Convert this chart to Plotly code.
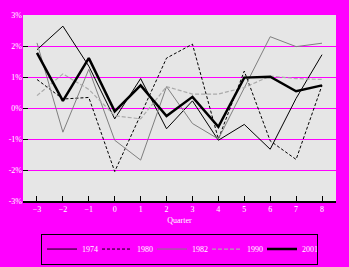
import plotly.graph_objects as go

quarters = [-3, -2, -1, 0, 1, 2, 3, 4, 5, 6, 7, 8]
s1974 = [1.88, 2.64, 1.35, -0.35, 0.95, -0.67, 0.23, -1.04, -0.53, -1.33, 0.31, 1.72]
s1980 = [0.92, 0.29, 0.34, -2.05, -0.22, 1.61, 2.06, -1.0, 1.19, -1.06, -1.66, 0.73]
s1982 = [2.1, -0.78, 1.25, -1.04, -1.68, 0.69, -0.5, -1.0, 0.65, 2.3, 1.98, 2.09]
s1990 = [0.4, 1.1, 0.6, -0.25, -0.35, 0.69, 0.45, 0.45, 0.66, 1.03, 0.95, 0.92]
s2001 = [1.78, 0.23, 1.61, -0.11, 0.73, -0.26, 0.36, -0.61, 0.98, 1.01, 0.54, 0.73]
ytick_vals = [-3, -2, -1, 0, 1, 2, 3]
ytick_text = ["-3%", "-2%", "-1%", "0%", "1%", "2%", "3%"]

font = dict(family="Liberation Serif", size=8, color="white")

fig = go.Figure()
fig.add_trace(go.Scatter(x=quarters, y=s1974, name="1974", mode="lines",
                         line=dict(color="black", width=1)))
fig.add_trace(go.Scatter(x=quarters, y=s1980, name="1980", mode="lines",
                         line=dict(color="black", width=1, dash="3px,2px")))
fig.add_trace(go.Scatter(x=quarters, y=s1982, name="1982", mode="lines",
                         line=dict(color="#7f7f7f", width=1)))
fig.add_trace(go.Scatter(x=quarters, y=s1990, name="1990", mode="lines",
                         line=dict(color="#aaaaaa", width=1.2, dash="4px,2px")))
fig.add_trace(go.Scatter(x=quarters, y=s2001, name="2001", mode="lines",
                         line=dict(color="black", width=2.5)))

fig.update_layout(
    width=349, height=267,
    margin=dict(l=23, r=13, t=15, b=66, autoexpand=False),
    paper_bgcolor="#FF00FF",
    plot_bgcolor="#E6E6E6",
    font=font,
    showlegend=True,
    legend=dict(orientation="h", x=0.5, xanchor="center", y=-0.175, yanchor="top",
                bordercolor="black", borderwidth=1, bgcolor="#FF00FF",
                font=font, tracegroupgap=0, itemwidth=30, entrywidth=10),
    xaxis=dict(range=[-3.54, 8.54], tickvals=quarters, ticks="inside", ticklen=5,
               tickcolor="black", showline=True, linecolor="black", linewidth=1.5,
               showgrid=False, zeroline=False, tickfont=font,
               title=dict(text="Quarter", font=font, standoff=4)),
    yaxis=dict(range=[-3, 3], tickvals=ytick_vals, ticktext=ytick_text,
               ticks="inside", ticklen=5, tickcolor="black", showline=False,
               showgrid=True, gridcolor="#FF00FF", gridwidth=1, zeroline=False,
               tickfont=font),
)

fig.write_html("out.html")
